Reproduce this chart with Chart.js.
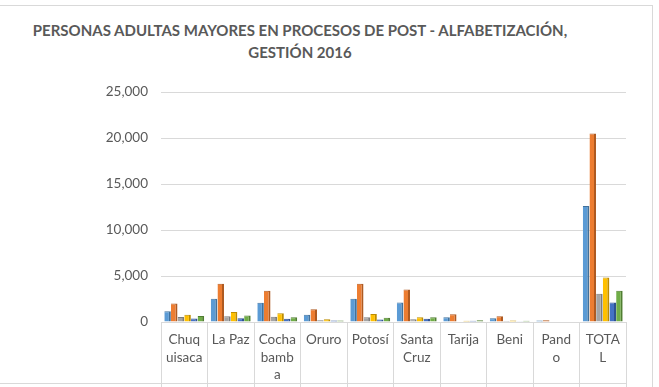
<!DOCTYPE html>
<html>
<head>
<meta charset="utf-8">
<script src="https://cdn.jsdelivr.net/npm/chart.js@4/dist/chart.umd.min.js"></script>
<style>
    body { margin: 0; background: #fff; overflow: hidden; }
    #frame { position: absolute; left: -2px; top: 5px; width: 653px; height: 400px; border: 1px solid #d9d9d9; }
    #title { position: absolute; left: 0; top: 19px; width: 600px; text-align: center;
             font: bold 15px Lato, sans-serif; line-height: 22px; color: #595959; }
    #wrap { position: absolute; left: 0; top: 0; width: 659px; height: 387px; }
</style>
</head>
<body>
<div id="frame"></div>
<div id="title">PERSONAS ADULTAS MAYORES EN PROCESOS DE POST - ALFABETIZACIÓN,<br>GESTIÓN 2016</div>
<div id="wrap"><canvas id="chart" width="659" height="387"></canvas></div>
<script>
// Categories (label lines wrapped as in the reference cells)
const categories = [
    ['Chuq', 'uisaca'], ['La Paz'], ['Cocha', 'bamb', 'a'], ['Oruro'], ['Potosí'],
    ['Santa', 'Cruz'], ['Tarija'], ['Beni'], ['Pand', 'o'], ['TOTA', 'L']
];

// Series values
const serie1 = [1180, 2520, 2090, 800, 2520, 2130, 520, 410, 160, 12610];
const serie2 = [2010, 4160, 3410, 1380, 4160, 3520, 840, 620, 190, 20480];
const serie3 = [540, 620, 560, 190, 520, 300, 60, 100, 50, 3060];
const serie4 = [790, 1090, 950, 300, 880, 520, 130, 160, 60, 4850];
const serie5 = [390, 410, 340, 160, 270, 340, 130, 90, 60, 2130];
const serie6 = [640, 700, 520, 160, 450, 520, 190, 130, 60, 3410];

const yTicks = [0, 5000, 10000, 15000, 20000, 25000];

const fills = ['#5b9bd5', '#ed7d31', '#a5a5a5', '#ffc000', '#4472c4', '#70ad47'];
const edges = ['#41719c', '#ae5a21', '#7c7c7c', '#bc8c00', '#2f528f', '#507e32'];
const series = [serie1, serie2, serie3, serie4, serie5, serie6];

const textColor = '#595959';
const lineColor = '#d9d9d9';

// bottom rule of the data table below the axis
const tableLine = {
    id: 'tableLine',
    afterDraw(chart) {
        const ctx = chart.ctx;
        ctx.save();
        ctx.strokeStyle = lineColor;
        ctx.lineWidth = 1;
        ctx.beginPath();
        ctx.moveTo(0, 383.5);
        ctx.lineTo(chart.scales.x.right, 383.5);
        ctx.stroke();
        ctx.restore();
    }
};

const ctx = document.getElementById('chart').getContext('2d');
new Chart(ctx, {
    type: 'bar',
    data: {
        labels: categories,
        datasets: series.map((values, i) => ({
            label: 'Serie ' + (i + 1),
            data: values,
            backgroundColor: fills[i],
            borderColor: edges[i],
            borderWidth: { top: 1, right: 2, left: 0, bottom: 0 },
            borderSkipped: false,
            categoryPercentage: 0.86,
            barPercentage: 0.98
        }))
    },
    options: {
        responsive: false,
        animation: false,
        layout: { padding: { top: 92, right: 33, bottom: 0, left: 0 } },
        plugins: {
            legend: { display: false },
            title: { display: false },
            tooltip: { enabled: false }
        },
        scales: {
            y: {
                min: 0,
                max: 25000,
                afterFit: s => { s.width = 161; },
                afterBuildTicks: s => { s.ticks = yTicks.map(v => ({ value: v })); },
                border: { display: false },
                grid: { color: lineColor, drawTicks: false },
                ticks: {
                    color: textColor,
                    padding: 13,
                    font: { family: 'Lato', size: 13.5 },
                    callback: v => v.toLocaleString('en-US')
                }
            },
            x: {
                afterFit: s => { s.height = 65; },
                border: { color: lineColor },
                grid: { color: lineColor, drawOnChartArea: false, tickLength: 65, offset: true },
                ticks: {
                    color: textColor,
                    padding: -56,
                    maxRotation: 0,
                    autoSkip: false,
                    font: { family: 'Lato', size: 13.5, lineHeight: 1.3 }
                }
            }
        }
    },
    plugins: [tableLine]
});
</script>
</body>
</html>
